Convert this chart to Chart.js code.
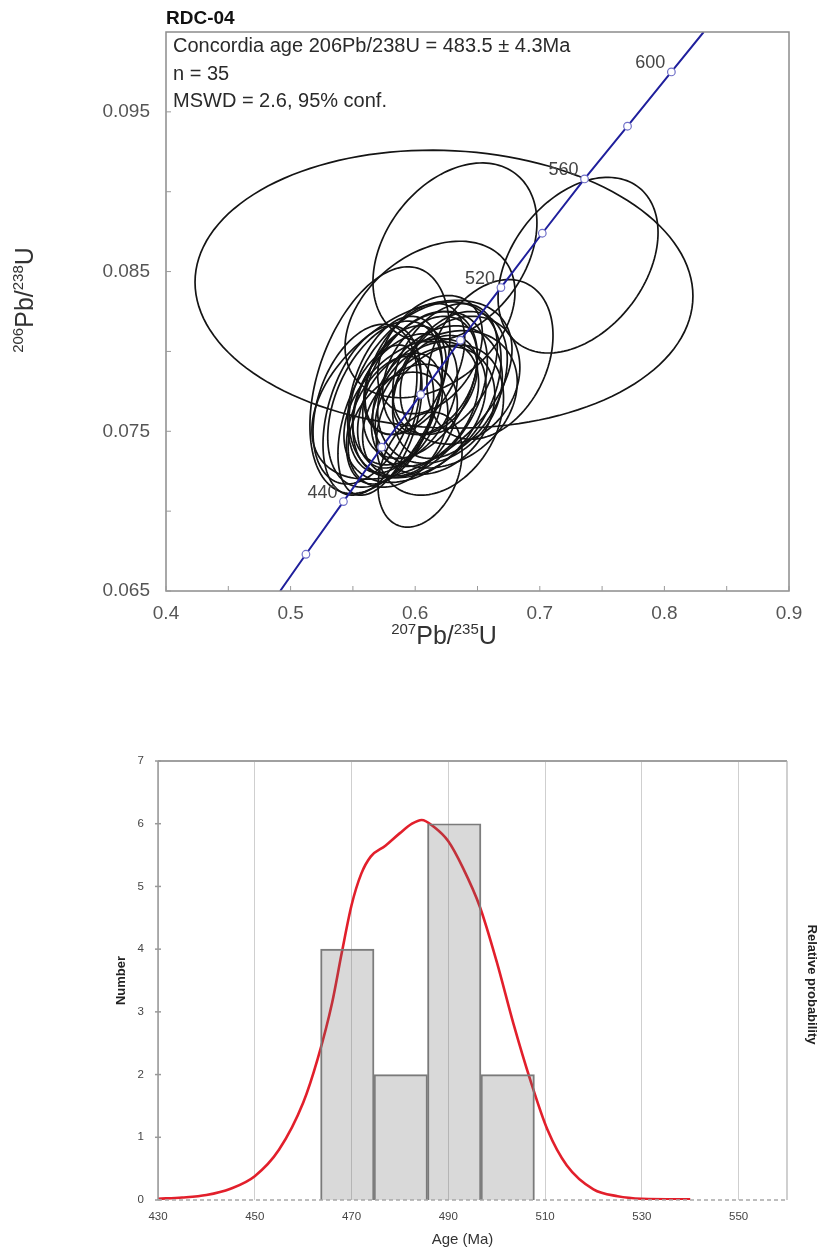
<!DOCTYPE html>
<html><head><meta charset="utf-8">
<script src="https://cdn.jsdelivr.net/npm/chart.js@4.4.0/dist/chart.umd.min.js"></script>
<style>
html,body{margin:0;padding:0;background:#fff;width:834px;height:1254px;overflow:hidden;}
.box{position:absolute;left:0;}
</style></head><body>
<div class="box" style="top:0;width:834px;height:660px"><canvas id="c1" width="834" height="660"></canvas></div>
<div class="box" style="top:700px;width:834px;height:554px"><canvas id="c2" width="834" height="554"></canvas></div>
<script>
// ---------------- DATA ----------------
const sampleName = 'RDC-04';
const annotationLines = ['Concordia age 206Pb/238U = 483.5 \u00b1 4.3Ma', 'n = 35', 'MSWD = 2.6, 95% conf.'];

// Concordia curve (Ma, 207Pb/235U, 206Pb/238U)
const concordiaAges = [406, 420, 440, 460, 480, 500, 520, 540, 560, 580, 600, 614];
const concordiaX = [0.4916, 0.5123, 0.5424, 0.5731, 0.6044, 0.6363, 0.6688, 0.7020, 0.7359, 0.7704, 0.8056, 0.8315];
const concordiaY = [0.0650, 0.0673, 0.0706, 0.0740, 0.0773, 0.0807, 0.0840, 0.0874, 0.0908, 0.0941, 0.0975, 0.1000];
const concordiaMarkerAges = [420, 440, 460, 480, 500, 520, 540, 560, 580, 600];
const concordiaLabelAges = [440, 520, 560, 600];

// Error ellipses: centre, half-extent in x and y, correlation
const ellipseCX = [0.6231, 0.6319, 0.7307, 0.6119, 0.5717, 0.6600, 0.6039, 0.5974, 0.5597, 0.5653, 0.5717,
  0.5918, 0.6039, 0.6119, 0.5878, 0.6199, 0.5998, 0.5838, 0.6079, 0.6239, 0.5958, 0.5798, 0.6159,
  0.6279, 0.6039, 0.5918, 0.6360, 0.6119, 0.5998, 0.5862, 0.6199, 0.5758, 0.6079, 0.6239, 0.6159];
const ellipseCY = [0.0839, 0.0862, 0.0854, 0.0820, 0.0782, 0.0795, 0.0726, 0.0776, 0.0767, 0.0763, 0.0757,
  0.0770, 0.0779, 0.0785, 0.0763, 0.0773, 0.0789, 0.0773, 0.0767, 0.0789, 0.0757, 0.0757, 0.0763,
  0.0779, 0.0773, 0.0782, 0.0782, 0.0798, 0.0763, 0.0751, 0.0757, 0.0767, 0.0776, 0.0770, 0.0779];
const ellipseEX = [0.1998, 0.0658, 0.0642, 0.0682, 0.0562, 0.0506, 0.0337, 0.0803, 0.0417, 0.0393, 0.0337,
  0.0420, 0.0460, 0.0380, 0.0340, 0.0500, 0.0400, 0.0380, 0.0430, 0.0420, 0.0380, 0.0350, 0.0480,
  0.0460, 0.0540, 0.0330, 0.0480, 0.0420, 0.0570, 0.0400, 0.0510, 0.0460, 0.0610, 0.0580, 0.0340];
const ellipseEY = [0.0087, 0.0056, 0.0055, 0.0049, 0.0071, 0.0050, 0.0036, 0.0056, 0.0050, 0.0053, 0.0047,
  0.0041, 0.0046, 0.0037, 0.0036, 0.0043, 0.0041, 0.0049, 0.0039, 0.0041, 0.0035, 0.0040, 0.0040,
  0.0046, 0.0052, 0.0034, 0.0040, 0.0037, 0.0045, 0.0036, 0.0047, 0.0052, 0.0055, 0.0043, 0.0031];
const ellipseRho = [-0.05, 0.33, 0.37, 0.35, 0.40, 0.30, 0.30, 0.45, 0.35, 0.40, 0.45,
  0.35, 0.40, 0.30, 0.35, 0.25, 0.45, 0.35, 0.35, 0.35, 0.30, 0.40, 0.25,
  0.35, 0.40, 0.35, 0.20, 0.35, 0.35, 0.30, 0.30, 0.40, 0.35, 0.25, 0.35];

const concX_ticks = [0.4, 0.45, 0.5, 0.55, 0.6, 0.65, 0.7, 0.75, 0.8, 0.85, 0.9];
const concX_labels = ['0.4', '', '0.5', '', '0.6', '', '0.7', '', '0.8', '', '0.9'];
const concY_ticks = [0.065, 0.07, 0.075, 0.08, 0.085, 0.09, 0.095];
const concY_labels = ['0.065', '', '0.075', '', '0.085', '', '0.095'];

// Histogram + probability curve
const histBinEdges = [463.6, 474.65, 485.7, 496.75, 507.8];
const histCounts = [4, 2, 6, 2];
const pdfAges = [430, 435, 440, 445, 450, 455, 460, 463, 466, 468, 470, 472, 474, 477, 480, 482.5, 484.5, 487, 490, 493, 496.5, 500, 503.5, 507, 510.5, 514.5, 520, 525, 530, 540];
const pdfValues = [0.02, 0.04, 0.08, 0.18, 0.38, 0.80, 1.55, 2.25, 3.15, 3.95, 4.70, 5.20, 5.48, 5.65, 5.85, 6.00, 6.06, 5.95, 5.72, 5.30, 4.68, 3.80, 2.80, 1.90, 1.12, 0.55, 0.17, 0.06, 0.02, 0.01];
const ageTicks = [430, 450, 470, 490, 510, 530, 550];
const countTicks = [0, 1, 2, 3, 4, 5, 6, 7];

// ---------------- HELPERS ----------------
const FONT = '"Liberation Sans", Arial, sans-serif';
function richText(ctx, parts, x, y, big, small, color) {
  let w = 0;
  parts.forEach(p => { ctx.font = (p[1] ? small : big) + 'px ' + FONT; w += ctx.measureText(p[0]).width; });
  let cx = x - w / 2;
  ctx.fillStyle = color; ctx.textBaseline = 'alphabetic'; ctx.textAlign = 'left';
  parts.forEach(p => {
    ctx.font = (p[1] ? small : big) + 'px ' + FONT;
    ctx.fillText(p[0], cx, p[1] ? y - big * 0.4 : y);
    cx += ctx.measureText(p[0]).width;
  });
}

// ---------------- CHART 1: concordia ----------------
const ellipsePlugin = {
  id: 'ellipses',
  beforeDatasetsDraw(chart) {
    const {ctx, chartArea: a, scales: {x, y}} = chart;
    ctx.save();
    ctx.beginPath(); ctx.rect(a.left, a.top, a.right - a.left, a.bottom - a.top); ctx.clip();
    ctx.strokeStyle = '#141414'; ctx.lineWidth = 1.7;
    for (let i = 0; i < ellipseCX.length; i++) {
      const r = ellipseRho[i], s = Math.sqrt(1 - r * r);
      ctx.beginPath();
      for (let k = 0; k <= 144; k++) {
        const t = k / 144 * 2 * Math.PI;
        const vx = ellipseCX[i] + ellipseEX[i] * Math.cos(t);
        const vy = ellipseCY[i] + ellipseEY[i] * (r * Math.cos(t) + s * Math.sin(t));
        const px = x.getPixelForValue(vx), py = y.getPixelForValue(vy);
        if (k === 0) ctx.moveTo(px, py); else ctx.lineTo(px, py);
      }
      ctx.closePath(); ctx.stroke();
    }
    ctx.restore();
  }
};
const concDecor = {
  id: 'concDecor',
  afterDraw(chart) {
    const {ctx, chartArea: a, scales: {x, y}} = chart;
    ctx.save();
    ctx.strokeStyle = '#8c8c8c'; ctx.lineWidth = 1.5;
    ctx.strokeRect(a.left, a.top, a.right - a.left, a.bottom - a.top);
    ctx.lineWidth = 1; ctx.strokeStyle = '#9a9a9a';
    concX_ticks.forEach(v => { const p = x.getPixelForValue(v); ctx.beginPath(); ctx.moveTo(p, a.bottom); ctx.lineTo(p, a.bottom - 5); ctx.stroke(); });
    concY_ticks.forEach(v => { const p = y.getPixelForValue(v); ctx.beginPath(); ctx.moveTo(a.left, p); ctx.lineTo(a.left + 5, p); ctx.stroke(); });
    ctx.fillStyle = '#111'; ctx.font = 'bold 19px ' + FONT; ctx.textAlign = 'left'; ctx.textBaseline = 'alphabetic';
    ctx.fillText(sampleName, a.left, a.top - 8);
    ctx.fillStyle = '#2a2a2a'; ctx.font = '20px ' + FONT;
    annotationLines.forEach((t, i) => ctx.fillText(t, a.left + 7, a.top + 20 + i * 27.5));
    ctx.fillStyle = '#444'; ctx.font = '18px ' + FONT; ctx.textAlign = 'right'; ctx.textBaseline = 'middle';
    concordiaLabelAges.forEach(age => {
      const i = concordiaAges.indexOf(age);
      ctx.fillText(String(age), x.getPixelForValue(concordiaX[i]) - 6, y.getPixelForValue(concordiaY[i]) - 9);
    });
    ctx.save();
    ctx.translate(24, 300);
    ctx.rotate(-Math.PI / 2);
    richText(ctx, [['206', true], ['Pb/', false], ['238', true], ['U', false]], 0, 9, 25, 15, '#333');
    ctx.restore();
    richText(ctx, [['207', true], ['Pb/', false], ['235', true], ['U', false]], 444, a.bottom + 53, 25, 15, '#333');
    ctx.restore();
  }
};

new Chart(document.getElementById('c1'), {
  type: 'scatter',
  data: {
    datasets: [{
      data: concordiaX.map((v, i) => ({x: v, y: concordiaY[i]})),
      showLine: true,
      borderColor: '#1f1f9c',
      borderWidth: 2,
      pointRadius: concordiaAges.map(a => concordiaMarkerAges.includes(a) ? 3.8 : 0),
      pointBackgroundColor: '#ffffff',
      pointBorderColor: '#7070c8',
      pointBorderWidth: 1.2,
      tension: 0
    }]
  },
  options: {
    responsive: false, devicePixelRatio: 1, animation: false,
    layout: {padding: {left: 0, right: 45, top: 32, bottom: 0}},
    plugins: {legend: {display: false}, tooltip: {enabled: false}},
    scales: {
      x: {
        type: 'linear', min: 0.4, max: 0.9,
        afterBuildTicks: s => { s.ticks = concX_ticks.map(v => ({value: v})); },
        afterFit: s => { s.height = 69; },
        grid: {display: false, drawTicks: false}, border: {display: false},
        ticks: {padding: 11, autoSkip: false, maxRotation: 0, color: '#555', font: {size: 19, family: FONT},
          callback: (v, i) => concX_labels[i]}
      },
      y: {
        type: 'linear', min: 0.065, max: 0.1,
        afterBuildTicks: s => { s.ticks = concY_ticks.map(v => ({value: v})); },
        afterFit: s => { s.width = 166; },
        grid: {display: false, drawTicks: false}, border: {display: false},
        ticks: {padding: 16, autoSkip: false, color: '#555', font: {size: 19, family: FONT},
          callback: (v, i) => concY_labels[i]}
      }
    }
  },
  plugins: [ellipsePlugin, concDecor]
});

// ---------------- CHART 2: histogram ----------------
const histDecor = {
  id: 'histDecor',
  afterDraw(chart) {
    const {ctx, chartArea: a, scales: {x, y}} = chart;
    ctx.save();
    ctx.strokeStyle = '#a0a0a0'; ctx.lineWidth = 2;
    ctx.beginPath(); ctx.moveTo(a.left, a.top); ctx.lineTo(a.right, a.top); ctx.stroke();
    ctx.lineWidth = 1.2; ctx.strokeStyle = '#b0b0b0';
    ctx.beginPath(); ctx.moveTo(a.right, a.top); ctx.lineTo(a.right, a.bottom); ctx.stroke();
    ctx.strokeStyle = '#999'; ctx.lineWidth = 1.5;
    ctx.beginPath(); ctx.moveTo(a.left, a.top); ctx.lineTo(a.left, a.bottom); ctx.stroke();
    countTicks.forEach(v => { const p = y.getPixelForValue(v); ctx.beginPath(); ctx.moveTo(a.left - 3, p); ctx.lineTo(a.left + 3, p); ctx.stroke(); });
    ctx.strokeStyle = '#a8a8a8'; ctx.lineWidth = 1.5; ctx.setLineDash([4, 3]);
    ctx.beginPath(); ctx.moveTo(a.left, a.bottom); ctx.lineTo(a.right, a.bottom); ctx.stroke();
    ctx.setLineDash([]);
    ctx.fillStyle = '#222';
    ctx.save(); ctx.translate(a.left - 37, (a.top + a.bottom) / 2); ctx.rotate(-Math.PI / 2);
    ctx.font = 'bold 13px ' + FONT; ctx.textAlign = 'center'; ctx.textBaseline = 'middle';
    ctx.fillText('Number', 0, 0); ctx.restore();
    ctx.save(); ctx.translate(a.right + 25, (a.top + a.bottom) / 2 + 4); ctx.rotate(Math.PI / 2);
    ctx.font = 'bold 13px ' + FONT; ctx.textAlign = 'center'; ctx.textBaseline = 'middle';
    ctx.fillText('Relative probability', 0, 0); ctx.restore();
    ctx.font = '15px ' + FONT; ctx.textAlign = 'center'; ctx.textBaseline = 'middle'; ctx.fillStyle = '#333';
    ctx.fillText('Age (Ma)', (a.left + a.right) / 2 - 10, a.bottom + 40);
    ctx.restore();
  }
};

const binCenters = histCounts.map((c, i) => (histBinEdges[i] + histBinEdges[i + 1]) / 2);
new Chart(document.getElementById('c2'), {
  type: 'bar',
  data: {
    datasets: [
      {
        type: 'line', order: 1,
        data: pdfAges.map((a, i) => ({x: a, y: pdfValues[i]})),
        borderColor: '#e21f2b', borderWidth: 2.6, pointRadius: 0,
        cubicInterpolationMode: 'monotone'
      },
      {
        type: 'bar', order: 0,
        data: binCenters.map((c, i) => ({x: c, y: histCounts[i]})),
        backgroundColor: 'rgba(105,105,105,0.25)', borderColor: '#7d7d7d', borderWidth: 1.3,
        barPercentage: 1, categoryPercentage: 1
      }
    ]
  },
  options: {
    responsive: false, devicePixelRatio: 1, animation: false,
    layout: {padding: {left: 0, right: 47, top: 61, bottom: 0}},
    plugins: {legend: {display: false}, tooltip: {enabled: false}},
    scales: {
      x: {
        type: 'linear', min: 430, max: 560, offset: false,
        afterBuildTicks: s => { s.ticks = ageTicks.map(v => ({value: v})); },
        afterFit: s => { s.height = 54; },
        grid: {display: true, offset: false, drawTicks: false, color: '#cfcfcf', lineWidth: 1}, border: {display: false},
        ticks: {padding: 10, autoSkip: false, maxRotation: 0, color: '#444', font: {size: 11.5, family: FONT}}
      },
      y: {
        type: 'linear', min: 0, max: 7,
        afterBuildTicks: s => { s.ticks = countTicks.map(v => ({value: v})); },
        afterFit: s => { s.width = 158; },
        grid: {display: false, drawTicks: false}, border: {display: false},
        ticks: {padding: 14, autoSkip: false, color: '#444', font: {size: 11.5, family: FONT}}
      }
    }
  },
  plugins: [histDecor]
});
</script>
</body></html>
